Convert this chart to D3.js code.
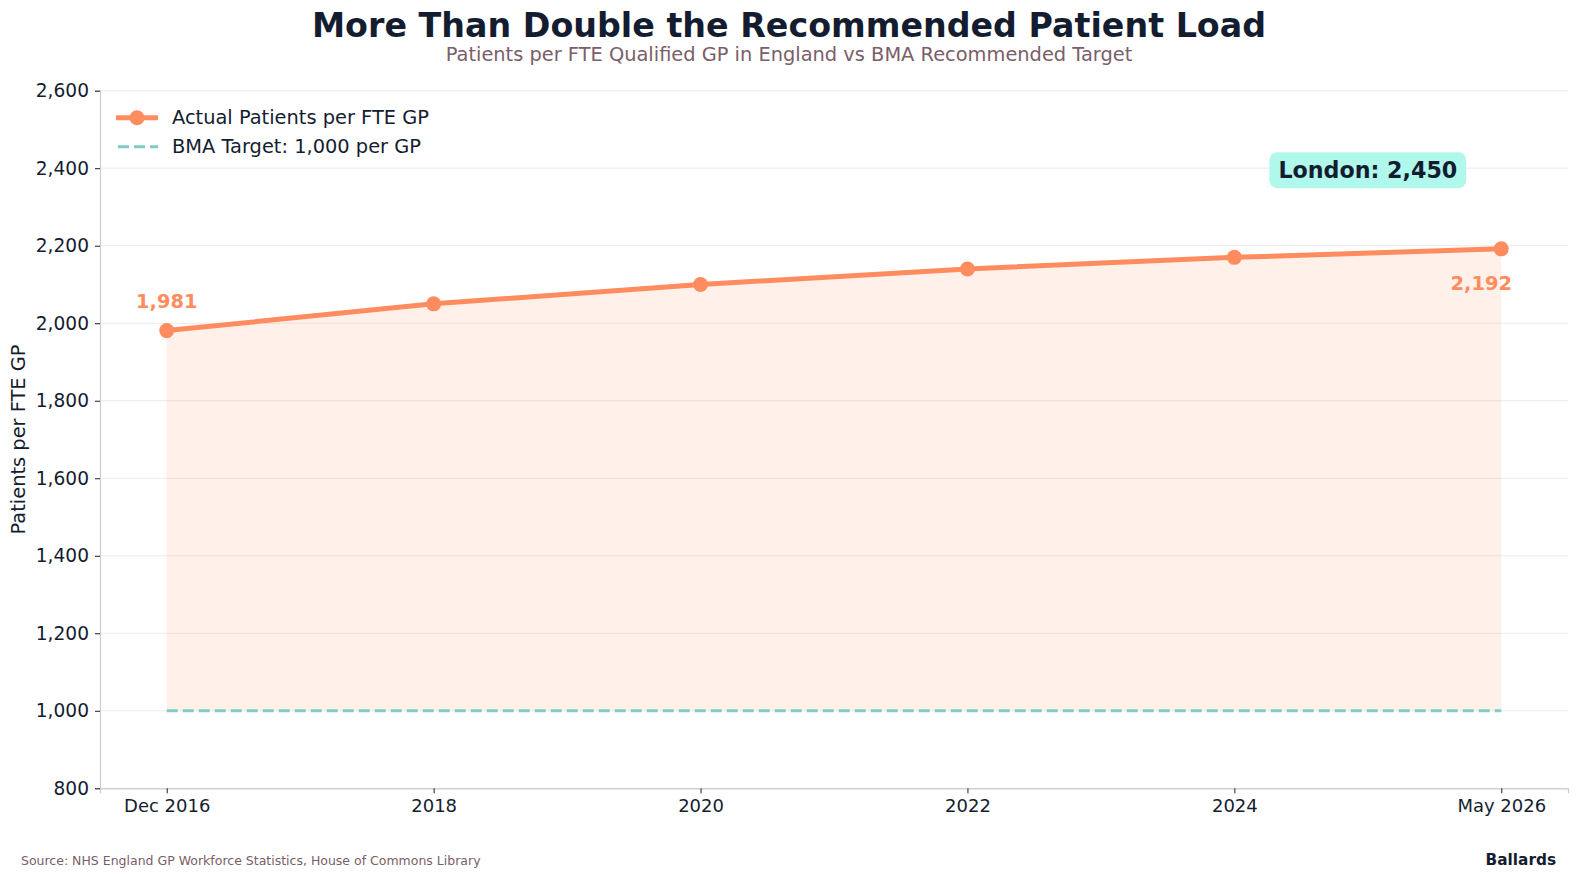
<!DOCTYPE html>
<html>
<head>
<meta charset="utf-8">
<script src="https://cdn.jsdelivr.net/npm/d3@7"></script>
<style>
  body { margin: 0; background: #fff; font-family: "DejaVu Sans", sans-serif; overflow: hidden; }
  svg { display: block; }
</style>
</head>
<body>
<div id="chart"></div>
<script>
const periods = ["Dec 2016", "2018", "2020", "2022", "2024", "May 2026"];
const patientsPerGP = [1981, 2050, 2100, 2140, 2170, 2192];
const bmaTarget = 1000;
const yTicks = [800, 1000, 1200, 1400, 1600, 1800, 2000, 2200, 2400, 2600];
const londonValue = 2450;

const W = 1578, H = 877;
const margin = { top: 90.7, right: 10, bottom: 88.7, left: 100 };
const width = W - margin.left - margin.right;
const height = H - margin.top - margin.bottom;

const navy = "#141d30";
const coral = "#ff8c5f";
const teal = "#7fccc6";
const fmt = d3.format(",");

const svg = d3.select("#chart").append("svg")
    .attr("width", W)
    .attr("height", H);

svg.append("text")
    .attr("x", W / 2)
    .attr("y", 37)
    .attr("text-anchor", "middle")
    .style("font-size", "33.3px")
    .style("font-weight", "bold")
    .style("fill", navy)
    .text("More Than Double the Recommended Patient Load");

svg.append("text")
    .attr("x", W / 2)
    .attr("y", 61)
    .attr("text-anchor", "middle")
    .style("font-size", "19.4px")
    .style("fill", "#7a5e69")
    .text("Patients per FTE Qualified GP in England vs BMA Recommended Target");

const g = svg.append("g")
    .attr("transform", `translate(${margin.left}, ${margin.top})`);

const xScale = d3.scaleLinear()
    .domain([-0.25, periods.length - 0.75])
    .range([0, width]);
const yScale = d3.scaleLinear()
    .domain([800, 2600])
    .range([height, 0]);

// grid
g.append("g").selectAll("line")
    .data(yTicks)
    .join("line")
    .attr("x1", 0)
    .attr("x2", width)
    .attr("y1", d => yScale(d))
    .attr("y2", d => yScale(d))
    .attr("stroke", "#ebebeb")
    .attr("stroke-width", 1);

const data = periods.map((p, i) => ({ i, p, v: patientsPerGP[i] }));

// fill between target and actual
const area = d3.area()
    .x(d => xScale(d.i))
    .y0(yScale(bmaTarget))
    .y1(d => yScale(d.v));

g.append("path")
    .datum(data)
    .attr("d", area)
    .attr("fill", coral)
    .attr("fill-opacity", 0.13);

// target line
g.append("line")
    .attr("x1", xScale(0))
    .attr("x2", xScale(periods.length - 1))
    .attr("y1", yScale(bmaTarget))
    .attr("y2", yScale(bmaTarget))
    .attr("stroke", teal)
    .attr("stroke-width", 3)
    .attr("stroke-dasharray", "11,5");

// actual line
const line = d3.line()
    .x(d => xScale(d.i))
    .y(d => yScale(d.v));

g.append("path")
    .datum(data)
    .attr("d", line)
    .attr("fill", "none")
    .attr("stroke", coral)
    .attr("stroke-width", 5);

g.selectAll(".pt")
    .data(data)
    .join("circle")
    .attr("class", "pt")
    .attr("cx", d => xScale(d.i))
    .attr("cy", d => yScale(d.v))
    .attr("r", 7.5)
    .attr("fill", coral);

// axes
const xAxis = d3.axisBottom(xScale)
    .tickValues(d3.range(periods.length))
    .tickFormat(i => periods[i])
    .tickSize(5)
    .tickPadding(6);
const yAxis = d3.axisLeft(yScale)
    .tickValues(yTicks)
    .tickFormat(fmt)
    .tickSize(5)
    .tickPadding(6);

const gx = g.append("g")
    .attr("transform", `translate(0, ${height})`)
    .call(xAxis);
const gy = g.append("g").call(yAxis);

[gx, gy].forEach(ax => {
    ax.select(".domain").attr("stroke", "#cccccc").attr("stroke-width", 1.2);
    ax.selectAll(".tick line").attr("stroke", navy);
    ax.selectAll(".tick text")
        .style("font-family", "DejaVu Sans")
        .attr("fill", navy);
});
gx.selectAll(".tick text").style("font-size", "18px");
gy.selectAll(".tick text").style("font-size", "18.6px");

g.append("text")
    .attr("transform", "rotate(-90)")
    .attr("x", -height / 2)
    .attr("y", -75)
    .attr("text-anchor", "middle")
    .style("font-size", "19.4px")
    .style("fill", navy)
    .text("Patients per FTE GP");

// end labels
const last = data[data.length - 1];
g.append("text")
    .attr("x", xScale(0))
    .attr("y", yScale(data[0].v) - 23)
    .attr("text-anchor", "middle")
    .style("font-size", "19.4px")
    .style("font-weight", "bold")
    .style("fill", coral)
    .text(fmt(data[0].v));

g.append("text")
    .attr("x", xScale(last.i) - 20)
    .attr("y", yScale(last.v) + 41)
    .attr("text-anchor", "middle")
    .style("font-size", "19.4px")
    .style("font-weight", "bold")
    .style("fill", coral)
    .text(fmt(last.v));

// London callout
const london = g.append("g")
    .attr("transform", `translate(${xScale(4.5)}, ${yScale(2395)})`);
const lt = london.append("text")
    .attr("text-anchor", "middle")
    .attr("dy", "0.35em")
    .style("font-size", "22.2px")
    .style("font-weight", "bold")
    .style("fill", navy)
    .text(`London: ${fmt(londonValue)}`);
const bb = lt.node().getBBox();
london.insert("rect", "text")
    .attr("x", bb.x - 9)
    .attr("y", -18)
    .attr("width", bb.width + 18)
    .attr("height", 36)
    .attr("rx", 8)
    .attr("fill", "#b0f7ec");

// legend
const legend = g.append("g").attr("transform", "translate(16, 27)");
legend.append("line")
    .attr("x1", 0).attr("x2", 42).attr("y1", 0).attr("y2", 0)
    .attr("stroke", coral).attr("stroke-width", 5);
legend.append("circle")
    .attr("cx", 21).attr("cy", 0).attr("r", 7.5).attr("fill", coral);
legend.append("text")
    .attr("x", 56).attr("y", 0).attr("dy", "0.35em")
    .style("font-size", "19.4px").style("fill", navy)
    .text("Actual Patients per FTE GP");
legend.append("line")
    .attr("x1", 2).attr("x2", 42).attr("y1", 29).attr("y2", 29)
    .attr("stroke", teal).attr("stroke-width", 3)
    .attr("stroke-dasharray", "11,5");
legend.append("text")
    .attr("x", 56).attr("y", 29).attr("dy", "0.35em")
    .style("font-size", "19.4px").style("fill", navy)
    .text("BMA Target: 1,000 per GP");

// footer
svg.append("text")
    .attr("x", 21)
    .attr("y", 865)
    .style("font-size", "12.5px")
    .style("fill", "#7a5e69")
    .text("Source: NHS England GP Workforce Statistics, House of Commons Library");

svg.append("text")
    .attr("x", 1556)
    .attr("y", 865)
    .attr("text-anchor", "end")
    .style("font-size", "15.3px")
    .style("font-weight", "bold")
    .style("fill", navy)
    .text("Ballards");
</script>
</body>
</html>
